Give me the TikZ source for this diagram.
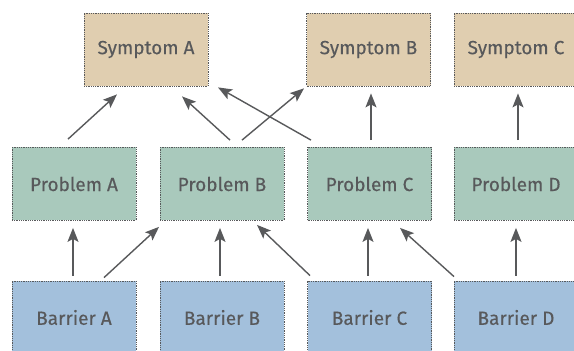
\documentclass[tikz,border=0pt]{standalone}
\usepackage{fontspec}
\setmainfont{Fira Sans}
\newfontfamily\boxfont[FakeBold=0.3]{Fira Sans}
\usetikzlibrary{arrows.meta}
\definecolor{symfill}{HTML}{E0CEB0}
\definecolor{probfill}{HTML}{A9C9BC}
\definecolor{barfill}{HTML}{A3C0DC}
\definecolor{inkgray}{HTML}{58595B}

\begin{document}
\begin{tikzpicture}[x=1pt, y=1pt,
        box/.style = {draw=inkgray, densely dotted, line width=0.8pt, minimum width=124pt,
                      minimum height=73pt, inner sep=0pt, text=inkgray, font=\boxfont\fontsize{19}{22}\selectfont},
        symptom/.style = {box, fill=symfill},
        problem/.style = {box, fill=probfill},
        barrier/.style = {box, fill=barfill},
        arr/.style = {draw=inkgray, line width=1.4pt, -{Stealth[length=14pt, width=11pt, inset=3pt]}}]
                \useasboundingbox (0,0) rectangle (574,351);
                \node[symptom] (sa) at (146, 301.5) {Symptom A};
                \node[symptom] (sb) at (368.5, 301.5) {Symptom B};
                \node[symptom] (sc) at (516, 301.5) {Symptom C};
                \node[problem] (pa) at (74, 167) {Problem A};
                \node[problem] (pb) at (222, 167) {Problem B};
                \node[problem] (pc) at (369.5, 167) {Problem C};
                \node[problem] (pd) at (516, 167) {Problem D};
                \node[barrier] (ba) at (74, 33.5) {Barrier A};
                \node[barrier] (bb) at (222, 33.5) {Barrier B};
                \node[barrier] (bc) at (369.5, 33.5) {Barrier C};
                \node[barrier] (bd) at (516, 33.5) {Barrier D};
                % problems to symptoms
                \draw[arr] ([shift={(-6,8)}]pa.north) -- ([shift={(-29,-8)}]sa.south);
                \draw[arr] ([shift={(8,7)}]pb.north) -- ([shift={(36,-10)}]sa.south);
                \draw[arr] ([shift={(20,7)}]pb.north) -- ([shift={(-64.5,-2)}]sb.south);
                \draw[arr] ([shift={(-58.5,7)}]pc.north) -- ([shift={(72,-1)}]sa.south);
                \draw[arr] ([shift={(1.5,7)}]pc.north) -- ([shift={(2.5,-7)}]sb.south);
                \draw[arr] ([shift={(2,7)}]pd.north) -- ([shift={(2,-7)}]sc.south);
                % barriers to problems
                \draw[arr] ([shift={(-1,5)}]ba.north) -- ([shift={(-1,-7)}]pa.south);
                \draw[arr] ([shift={(30,3)}]ba.north) -- ([shift={(-63,-6)}]pb.south);
                \draw[arr] ([shift={(-2,5)}]bb.north) -- ([shift={(-2,-7)}]pb.south);
                \draw[arr] ([shift={(-59.5,5)}]bc.north) -- ([shift={(35,-4)}]pb.south);
                \draw[arr] ([shift={(-1.5,5)}]bc.north) -- ([shift={(-1.5,-7)}]pc.south);
                \draw[arr] ([shift={(-62,4)}]bd.north) -- ([shift={(30.5,-7)}]pc.south);
                \draw[arr] ([shift={(0,5)}]bd.north) -- ([shift={(0,-7)}]pd.south);
\end{tikzpicture}
\end{document}
